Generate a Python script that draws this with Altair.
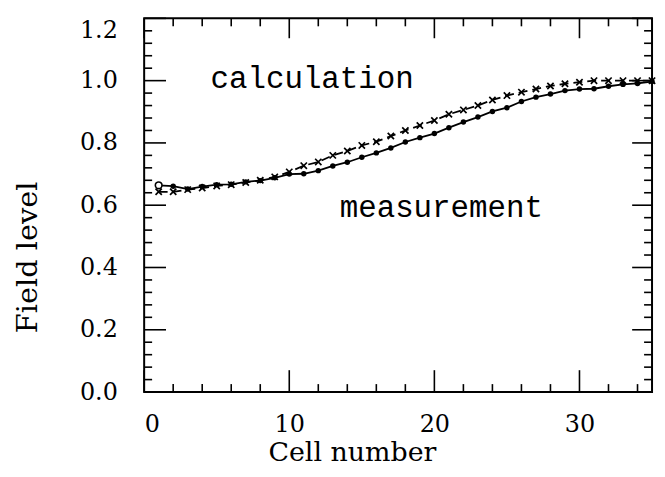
import altair as alt
import pandas as pd

cells = [1, 2, 3, 4, 5, 6, 7, 8, 9, 10, 11, 12, 13, 14, 15, 16, 17, 18,
         19, 20, 21, 22, 23, 24, 25, 26, 27, 28, 29, 30, 31, 32, 33, 34, 35]
measurement = [0.664, 0.661, 0.652, 0.660, 0.666, 0.667, 0.675, 0.679, 0.688,
               0.700, 0.701, 0.711, 0.726, 0.738, 0.754, 0.768, 0.784, 0.803,
               0.817, 0.830, 0.849, 0.867, 0.883, 0.901, 0.913, 0.933, 0.947,
               0.957, 0.968, 0.973, 0.974, 0.982, 0.988, 0.991, 0.997]
calculation = [0.643, 0.643, 0.650, 0.655, 0.662, 0.666, 0.673, 0.680, 0.691,
               0.707, 0.727, 0.739, 0.760, 0.774, 0.792, 0.804, 0.822, 0.840,
               0.856, 0.872, 0.892, 0.906, 0.920, 0.938, 0.952, 0.963, 0.973,
               0.983, 0.990, 0.995, 1.000, 1.000, 1.000, 1.000, 1.000]

x_major = [0, 10, 20, 30]
x_minor = [2, 4, 6, 8, 12, 14, 16, 18, 22, 24, 26, 28, 32, 34]
y_major = [0.0, 0.2, 0.4, 0.6, 0.8, 1.0, 1.2]
y_minor = [0.04, 0.08, 0.12, 0.16, 0.24, 0.28, 0.32, 0.36, 0.44, 0.48, 0.52,
           0.56, 0.64, 0.68, 0.72, 0.76, 0.84, 0.88, 0.92, 0.96, 1.04, 1.08,
           1.12, 1.16]

W, H = 511, 376
SERIF = "DejaVu Serif"
MONO = "Liberation Mono"

df_m = pd.DataFrame({"cell": cells, "value": measurement})
df_c = pd.DataFrame({"cell": cells, "value": calculation})

xscale = alt.Scale(domain=[0, 35], nice=False, zero=False)
yscale = alt.Scale(domain=[0, 1.2], nice=False)

ax_x = alt.Axis(
    values=x_major, title="Cell number", grid=False, ticks=False, tickSize=0,
    domain=False, labelFont=SERIF, labelFontSize=24, labelColor="black",
    labelPadding=21, titleFont=SERIF, titleFontSize=27, titleFontWeight="normal",
    titleColor="black", titleX=209, titleY=69, titleBaseline="alphabetic")
ax_y = alt.Axis(
    values=y_major, format=".1f", title="Field level", grid=False, ticks=False,
    tickSize=0, domain=False, labelFont=SERIF, labelFontSize=24,
    labelColor="black", labelPadding=27,
    labelBaseline={"condition": {"test": "datum.value >= 1.19", "value": "top"},
                   "value": "middle"},
    titleFont=SERIF, titleFontSize=29,
    titleFontWeight="normal", titleColor="black", titleX=-117, titleY=240,
    titleBaseline="middle", titleAlign="center")


def X(field):
    return alt.X(field, scale=xscale, axis=ax_x, title="Cell number")


def Y(field):
    return alt.Y(field, scale=yscale, axis=ax_y, title="Field level")


meas_line = alt.Chart(df_m).mark_line(color="black", strokeWidth=1.8).encode(
    x=X("cell:Q"), y=Y("value:Q"))
meas_pts = alt.Chart(df_m).mark_point(
    shape="circle", filled=True, color="black", size=30, opacity=1).encode(
    x=X("cell:Q"), y=Y("value:Q"))
meas_open = alt.Chart(df_m).transform_filter(alt.datum.cell == 1).mark_point(
    shape="circle", filled=True, fill="white", stroke="black", strokeWidth=1.6,
    size=45, opacity=1).encode(x=X("cell:Q"), y=Y("value:Q"))

calc_line = alt.Chart(df_c).mark_line(
    color="black", strokeWidth=1.8, strokeDash=[9, 5]).encode(
    x=X("cell:Q"), y=Y("value:Q"))
calc_pts = alt.Chart(df_c).mark_point(
    shape="M-1,-1L1,1M-1,1L1,-1", filled=False, color="black", strokeWidth=1.7,
    size=40, opacity=1).encode(x=X("cell:Q"), y=Y("value:Q"))


def xticks(vals, length, top):
    d = pd.DataFrame({"cell": vals})
    if top:
        yv, y2v = alt.value(0), alt.value(length)
    else:
        yv, y2v = alt.value(H), alt.value(H - length)
    return alt.Chart(d).mark_rule(color="black", strokeWidth=1.6).encode(
        x=X("cell:Q"), y=yv, y2=y2v)


def yticks(vals, length, right):
    d = pd.DataFrame({"value": vals})
    if right:
        xv, x2v = alt.value(W), alt.value(W - length)
    else:
        xv, x2v = alt.value(0), alt.value(length)
    return alt.Chart(d).mark_rule(color="black", strokeWidth=1.6).encode(
        y=Y("value:Q"), x=xv, x2=x2v)


ticks = [
    xticks(x_major, 22, False), xticks(x_minor, 8, False),
    xticks(x_major, 20, True), xticks(x_minor, 8, True),
    yticks(y_major, 22, False), yticks(y_minor, 8, False),
    yticks(y_major, 20, True), yticks(y_minor, 8, True),
]

labels = pd.DataFrame({"text": ["calculation", "measurement"]})
calc_text = alt.Chart(labels).transform_filter(
    alt.datum.text == "calculation").mark_text(
    font=MONO, fontSize=31, align="center", baseline="alphabetic",
    color="black").encode(text="text:N", x=alt.value(169), y=alt.value(70))
meas_text = alt.Chart(labels).transform_filter(
    alt.datum.text == "measurement").mark_text(
    font=MONO, fontSize=31, align="center", baseline="alphabetic",
    color="black").encode(text="text:N", x=alt.value(299), y=alt.value(200))

chart = alt.layer(
    meas_line, calc_line, meas_pts, calc_pts, meas_open, *ticks,
    calc_text, meas_text
).properties(
    width=W, height=H,
    autosize=alt.AutoSizeParams(type="none"),
    padding={"left": 137, "top": 9, "right": 5, "bottom": 76},
    background="white",
).configure_view(stroke="black", strokeWidth=2)

chart.save("out.html", embed_options={"renderer": "svg", "actions": False})
